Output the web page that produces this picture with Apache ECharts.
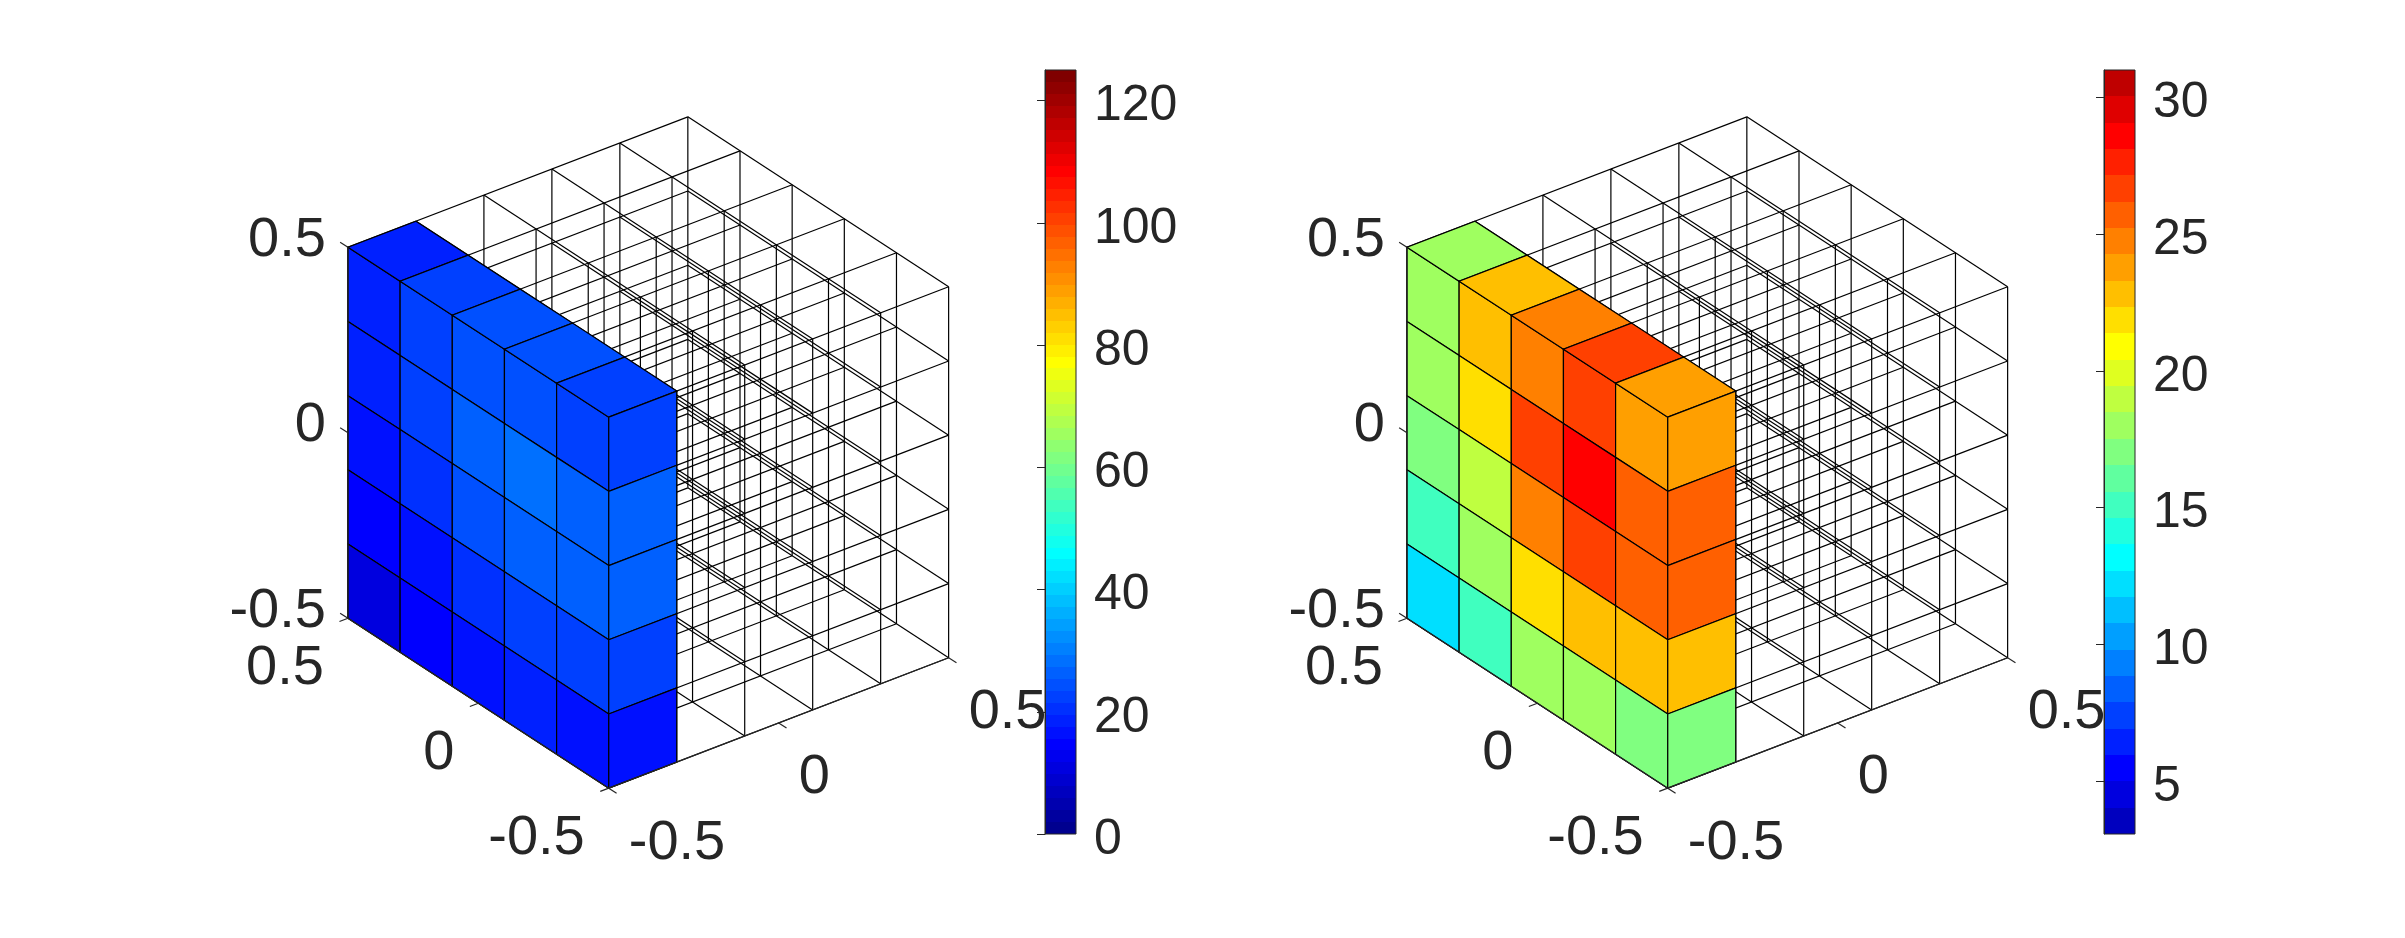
<!DOCTYPE html>
<html><head><meta charset="utf-8">
<style>html,body{margin:0;padding:0;background:#fff}#c{width:2405px;height:938px}</style>
<script src="https://cdn.jsdelivr.net/npm/echarts@6/dist/echarts.min.js"></script>
</head><body><div id="c"></div>
<script>
// axis ticks shared by both cubes
const tickValues = [-0.5, 0, 0.5];
const cellEdges = [-0.5, -0.3, -0.1, 0.1, 0.3, 0.5];
const sliceThickness = 0.2;

// cell values: rows run from z = 0.5 down to z = -0.5, columns from y = 0.5 to y = -0.5
const leftValues = [
  [18.6, 22.5, 24.4, 24.4, 22.5],
  [18.6, 22.5, 26.4, 28.3, 26.4],
  [16.6, 20.5, 24.4, 26.4, 26.4],
  [14.7, 16.6, 20.5, 22.5, 22.5],
  [10.7, 14.7, 16.6, 18.6, 16.6]
];
const rightValues = [
  [18.0, 22.8, 24.7, 26.6, 23.8],
  [18.0, 21.9, 26.6, 28.6, 25.7],
  [17.0, 19.0, 24.7, 26.6, 25.7],
  [15.1, 18.0, 21.9, 22.8, 22.8],
  [12.2, 15.1, 18.0, 18.0, 17.0]
];

// colour bars
const leftRange = [0, 125];
const rightRange = [3.06, 31];
const leftBarTicks = [0, 20, 40, 60, 80, 100, 120];
const rightBarTicks = [5, 10, 15, 20, 25, 30];
const leftLevels = 64;
const rightLevels = 29;

// view
const AZ = -37.5 * Math.PI / 180, EL = 30 * Math.PI / 180;
const project = (x, y, z) => [
  Math.cos(AZ) * x + Math.sin(AZ) * y,
  -Math.sin(EL) * Math.sin(AZ) * x + Math.sin(EL) * Math.cos(AZ) * y + Math.cos(EL) * z
];

// MATLAB jet(m)
function jet(m) {
  const n = Math.ceil(m / 4);
  const u = [];
  for (let i = 1; i <= n; i++) u.push(i / n);
  for (let i = 0; i < n - 1; i++) u.push(1);
  for (let i = n; i >= 1; i--) u.push(i / n);
  const g0 = Math.ceil(n / 2) - (m % 4 === 1 ? 1 : 0);
  const out = [];
  for (let i = 0; i < m; i++) out.push([0, 0, 0]);
  u.forEach((val, k) => {
    const g = g0 + k + 1, r = g + n, b = g - n;
    if (g <= m) out[g - 1][1] = val;
    if (r <= m) out[r - 1][0] = val;
    if (b >= 1) out[b - 1][2] = val;
  });
  return out.map(c => 'rgb(' + c.map(v => Math.round(v * 255)).join(',') + ')');
}

const INK = '#262626';
const FONT = '56px "Liberation Sans", Arial, sans-serif';
const BAR_FONT = '50px "Liberation Sans", Arial, sans-serif';
const UNIT = 428.4, HALF = 0.8;
const grids = [], xAxes = [], yAxes = [], series = [];

function addCube(centerX, centerY, values, range, levels) {
  const idx = grids.length;
  const colors = jet(levels);
  const colorOf = v => colors[Math.max(0, Math.min(levels - 1, Math.floor((v - range[0]) / (range[1] - range[0]) * levels)))];
  grids.push({left: centerX - HALF * UNIT, top: centerY - HALF * UNIT, width: 2 * HALF * UNIT, height: 2 * HALF * UNIT});
  xAxes.push({type: 'value', gridIndex: idx, min: -HALF, max: HALF, show: false});
  yAxes.push({type: 'value', gridIndex: idx, min: -HALF, max: HALF, show: false});
  const base = {type: 'custom', xAxisIndex: idx, yAxisIndex: idx, silent: true, animation: false, clip: false};
  const pt = (api, p) => api.coord(project(p[0], p[1], p[2]));

  // wireframe
  const lines = [];
  const lo = cellEdges[0], hi = cellEdges[cellEdges.length - 1];
  cellEdges.forEach(a => cellEdges.forEach(b => {
    lines.push([lo, a, b, hi, a, b]);
    lines.push([a, lo, b, a, hi, b]);
    lines.push([a, b, lo, a, b, hi]);
  }));
  series.push(Object.assign({}, base, {
    z: 2, data: lines,
    renderItem: (p, api) => {
      const s = pt(api, [api.value(0), api.value(1), api.value(2)]);
      const e = pt(api, [api.value(3), api.value(4), api.value(5)]);
      return {type: 'line', shape: {x1: s[0], y1: s[1], x2: e[0], y2: e[1]}, style: {stroke: '#000', lineWidth: 1.2}};
    }
  }));

  // slice faces: [face, row, col, value]; face 0 front, 1 top, 2 side
  const faces = [];
  values.forEach((row, r) => row.forEach((v, c) => {
    faces.push([0, r, c, v]);
    if (r === 0) faces.push([1, r, c, v]);
    if (c === values[0].length - 1) faces.push([2, r, c, v]);
  }));
  const x0 = lo, x1 = lo + sliceThickness;
  series.push(Object.assign({}, base, {
    z: 3, data: faces,
    renderItem: (p, api) => {
      const f = api.value(0), r = api.value(1), c = api.value(2), v = api.value(3);
      const zT = cellEdges[5 - r], zB = cellEdges[4 - r], yL = cellEdges[5 - c], yR = cellEdges[4 - c];
      let q;
      if (f === 0) q = [[x0, yL, zT], [x0, yR, zT], [x0, yR, zB], [x0, yL, zB]];
      else if (f === 1) q = [[x0, yL, hi], [x0, yR, hi], [x1, yR, hi], [x1, yL, hi]];
      else q = [[x0, lo, zT], [x1, lo, zT], [x1, lo, zB], [x0, lo, zB]];
      return {type: 'polygon', shape: {points: q.map(a => pt(api, a))},
        style: {fill: colorOf(v), stroke: '#000', lineWidth: 1.2}};
    }
  }));

  // axis lines and ticks
  const axisLines = [
    [lo, hi, lo, lo, hi, hi], [lo, hi, lo, lo, lo, lo], [lo, lo, lo, hi, lo, lo]
  ];
  tickValues.forEach(t => {
    axisLines.push([lo, hi, t, lo, hi + 0.03, t]);
    axisLines.push([lo, t, lo, lo - 0.025, t, lo]);
    axisLines.push([t, lo, lo, t, lo - 0.03, lo]);
  });
  series.push(Object.assign({}, base, {
    z: 4, data: axisLines,
    renderItem: (p, api) => {
      const s = pt(api, [api.value(0), api.value(1), api.value(2)]);
      const e = pt(api, [api.value(3), api.value(4), api.value(5)]);
      return {type: 'line', shape: {x1: s[0], y1: s[1], x2: e[0], y2: e[1]}, style: {stroke: INK, lineWidth: 1.2}};
    }
  }));

  // tick labels: [axis, tick]
  const labels = [];
  [0, 1, 2].forEach(a => tickValues.forEach(t => labels.push([a, t])));
  series.push(Object.assign({}, base, {
    z: 5, data: labels,
    renderItem: (p, api) => {
      const a = api.value(0), t = api.value(1);
      const anchor = a === 0 ? [lo, hi, t] : a === 1 ? [lo, t, lo] : [t, lo, lo];
      const off = a === 0 ? [-22, -7] : a === 1 ? [-24, 50] : [20, 55];
      const c = pt(api, anchor);
      return {type: 'text', style: {text: String(t), x: c[0] + off[0], y: c[1] + off[1], font: FONT, fill: INK,
        textAlign: a === 2 ? 'left' : 'right', textVerticalAlign: 'middle'}};
    }
  }));
}

function addBar(left, range, levels, ticks) {
  const idx = grids.length;
  const colors = jet(levels);
  grids.push({left: left, top: 70, width: 31, height: 764});
  xAxes.push({type: 'value', gridIndex: idx, min: 0, max: 1, show: false});
  yAxes.push({
    type: 'value', gridIndex: idx, position: 'right', min: range[0], max: range[1], z: 10,
    splitLine: {show: false},
    axisLine: {show: true, lineStyle: {color: INK, width: 1}},
    axisTick: {show: true, inside: true, length: 8, customValues: ticks, lineStyle: {color: INK, width: 1}},
    axisLabel: {show: false}
  });
  const base = {type: 'custom', xAxisIndex: idx, yAxisIndex: idx, silent: true, animation: false, clip: false};
  const step = (range[1] - range[0]) / levels;
  series.push(Object.assign({}, base, {
    z: 2,
    data: colors.map((c, i) => [i, range[0] + i * step, range[0] + (i + 1) * step]),
    renderItem: (p, api) => {
      const a = api.coord([0, api.value(1)]), b = api.coord([1, api.value(2)]);
      const y1 = Math.round(b[1]), y2 = Math.round(a[1]);
      return {type: 'rect', shape: {x: a[0], y: y1, width: b[0] - a[0], height: y2 - y1}, style: {fill: colors[api.value(0)]}};
    }
  }));
  series.push(Object.assign({}, base, {
    z: 3, data: [[range[0], range[1]]],
    renderItem: (p, api) => {
      const a = api.coord([0, api.value(0)]), b = api.coord([1, api.value(1)]);
      return {type: 'rect', shape: {x: a[0], y: b[1], width: b[0] - a[0], height: a[1] - b[1]},
        style: {fill: 'none', stroke: INK, lineWidth: 1}};
    }
  }));
  series.push(Object.assign({}, base, {
    z: 4, data: ticks.map(t => [t]),
    renderItem: (p, api) => {
      const t = api.value(0), c = api.coord([1, t]);
      return {type: 'text', style: {text: String(t), x: c[0] + 18, y: c[1] + 6, font: BAR_FONT, fill: INK,
        textAlign: 'left', textVerticalAlign: 'middle'}};
    }
  }));
}

addCube(648.3, 452.5, leftValues, leftRange, leftLevels);
addBar(1045, leftRange, leftLevels, leftBarTicks);
addCube(1707.3, 452.5, rightValues, rightRange, rightLevels);
addBar(2104, rightRange, rightLevels, rightBarTicks);

const chart = echarts.init(document.getElementById('c'), null, {renderer: 'canvas', width: 2405, height: 938});
chart.setOption({backgroundColor: '#fff', animation: false, grid: grids, xAxis: xAxes, yAxis: yAxes, series: series});
</script></body></html>
